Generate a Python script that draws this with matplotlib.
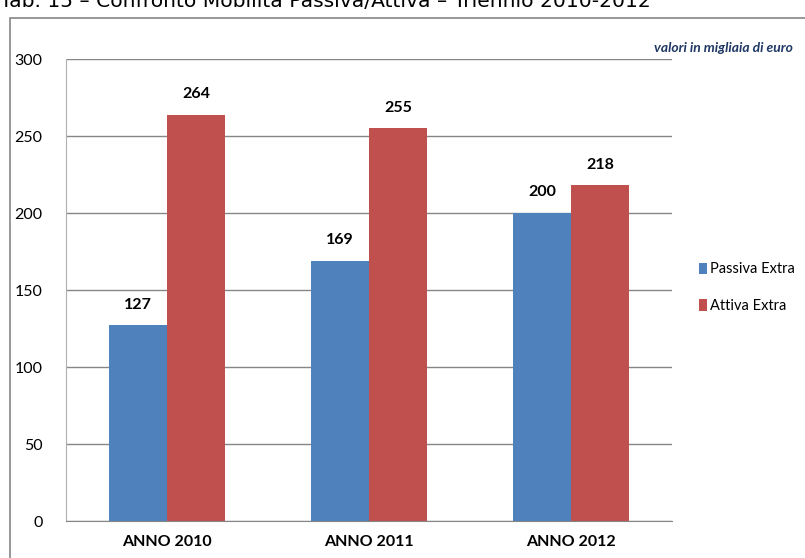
import numpy as np
import matplotlib.pyplot as plt
from matplotlib.patches import Rectangle

categories = ["ANNO 2010", "ANNO 2011", "ANNO 2012"]
passiva = [127, 169, 200]
attiva = [264, 255, 218]
series_names = ["Passiva Extra", "Attiva Extra"]

plt.rcParams['font.family'] = ['Lato', 'DejaVu Sans']

fig = plt.figure(figsize=(8.05, 5.58), dpi=100)
ax = fig.add_axes([0.082, 0.0663, 0.753, 0.8277])

# outer chart frame
fig.patches.append(Rectangle((10 / 805, -0.1), 1.2, 1 - 18 / 558 + 0.1,
                             transform=fig.transFigure, fill=False,
                             edgecolor='#868686', linewidth=1.2))

x = np.arange(len(categories))
w = 0.287
b1 = ax.bar(x - w / 2, passiva, w, color='#4F81BD', label=series_names[0])
b2 = ax.bar(x + w / 2, attiva, w, color='#C0504D', label=series_names[1])

for bars in (b1, b2):
    for r in bars:
        ax.text(r.get_x() + r.get_width() / 2, r.get_height() + 9,
                f"{r.get_height():.0f}", ha='center', va='bottom',
                fontsize=11.5, fontweight='bold')

ax.set_xlim(-0.5, 2.5)
ax.set_ylim(0, 300)
ax.set_yticks(range(0, 301, 50))
ax.set_xticks(x)
ax.set_xticklabels(categories, fontsize=11.5, fontweight='bold')
ax.tick_params(axis='y', labelsize=11.5, length=0, pad=17)
ax.tick_params(axis='x', length=0, pad=10)
ax.yaxis.grid(True, color='#868686', linewidth=1)
ax.set_axisbelow(True)
for s in ('top', 'right'):
    ax.spines[s].set_visible(False)
ax.spines['left'].set_color('#b0b0b0')
ax.spines['bottom'].set_color('#868686')

ax.legend(loc='center left', bbox_to_anchor=(1.022, 0.505), frameon=False,
          fontsize=10.5, handlelength=0.6, handleheight=0.8, handletextpad=0.2,
          labelspacing=1.55)

fig.text(793 / 805, 1 - 48 / 558, "valori in migliaia di euro", ha='right',
         va='center', fontsize=10, fontstyle='italic', fontweight='bold',
         color='#1F3864')
fig.text(0, 1 - 7 / 558, "Tab. 15 \u2013 Confronto Mobilit\u00e0 Passiva/Attiva \u2013 Triennio 2010-2012",
         ha='left', va='baseline', fontsize=14.6, family='DejaVu Sans')

fig.savefig("out.png", dpi=100)
